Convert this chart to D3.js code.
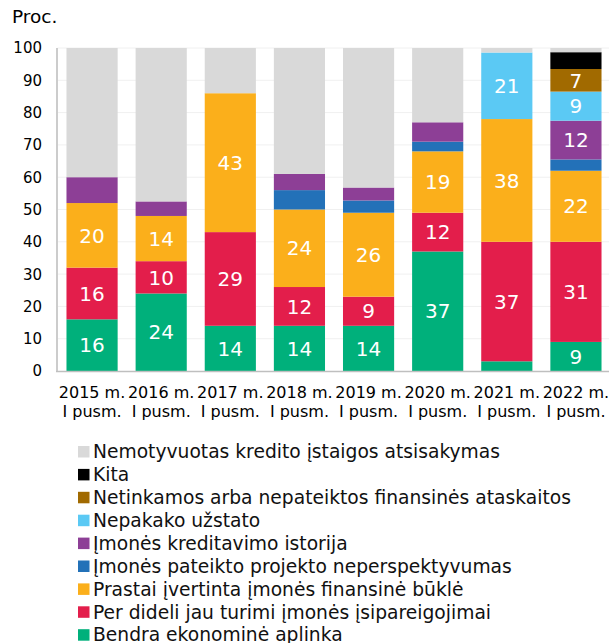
<!DOCTYPE html>
<html>
<head>
<meta charset="utf-8">
<script src="https://cdn.jsdelivr.net/npm/d3@7"></script>
<style>
  body { margin: 0; background: #fff; }
  svg { font-family: "DejaVu Sans", Verdana, sans-serif; display: block; }
</style>
</head>
<body>
<div id="chart"></div>
<script>
// periods (two-line tick labels)
const periods = ['2015 m.|I pusm.', '2016 m.|I pusm.', '2017 m.|I pusm.', '2018 m.|I pusm.',
  '2019 m.|I pusm.', '2020 m.|I pusm.', '2021 m.|I pusm.', '2022 m.|I pusm.'];

// series, bottom to top
const seriesNames = [
  'Bendra ekonominė aplinka',
  'Per dideli jau turimi įmonės įsipareigojimai',
  'Prastai įvertinta įmonės finansinė būklė',
  'Įmonės pateikto projekto neperspektyvumas',
  'Įmonės kreditavimo istorija',
  'Nepakako užstato',
  'Netinkamos arba nepateiktos finansinės ataskaitos',
  'Kita',
  'Nemotyvuotas kredito įstaigos atsisakymas'
];
const seriesColors = ['#00b07b', '#e31e4b', '#fbaf1b', '#2371b8', '#8d3f96',
  '#5bc9f4', '#a16a00', '#000000', '#d9d9d9'];

const bendra     = [16, 24, 14, 14, 14, 37, 3, 9];
const dideli     = [16, 10, 29, 12, 9, 12, 37, 31];
const prastai    = [20, 14, 43, 24, 26, 19, 38, 22];
const projektas  = [0, 0, 0, 6, 3.8, 3, 0, 3.5];
const istorija   = [8, 4.5, 0, 5, 4, 6, 0, 12];
const uzstatas   = [0, 0, 0, 0, 0, 0, 20.6, 9];
const ataskaitos = [0, 0, 0, 0, 0, 0, 0, 7];
const kita       = [0, 0, 0, 0, 0, 0, 0, 5.2];
const nemotyv    = [40, 47.5, 14, 39, 43.2, 23, 1.4, 1.3];

const seriesValues = [bendra, dideli, prastai, projektas, istorija, uzstatas, ataskaitos, kita, nemotyv];

const yTicks = [0, 10, 20, 30, 40, 50, 60, 70, 80, 90, 100];
const labelMin = 7;
const noLabelSeries = [7, 8];          // Kita, Nemotyvuotas
const noLabelCells = [[0, 4]];         // 2015 istorija

const width = 609;
const height = 643;
const margin = { top: 48, bottom: 272, left: 57.5, right: -1.5 };

const svg = d3.select('#chart')
  .append('svg')
  .attr('width', width)
  .attr('height', height);

const x = d3.scaleBand()
  .domain(d3.range(periods.length))
  .range([margin.left, width - margin.right])
  .paddingInner(0.26)
  .paddingOuter(0.13);

const y = d3.scaleLinear()
  .domain([0, 100])
  .range([height - margin.bottom, margin.top]);

// gridlines
svg.append('g')
  .selectAll('line')
  .data(yTicks.slice(1))
  .join('line')
  .attr('x1', margin.left)
  .attr('x2', width)
  .attr('y1', d => y(d))
  .attr('y2', d => y(d))
  .attr('stroke', '#f0f0f0')
  .attr('stroke-width', 1);

// stacked data
const rows = periods.map((p, i) => {
  const r = { i };
  seriesValues.forEach((s, k) => r[k] = s[i]);
  return r;
});
const stack = d3.stack().keys(d3.range(seriesNames.length))(rows);

const layers = svg.append('g')
  .selectAll('g')
  .data(stack)
  .join('g')
  .attr('fill', d => seriesColors[d.key]);

layers.selectAll('rect')
  .data(d => d)
  .join('rect')
  .attr('x', d => x(d.data.i))
  .attr('y', d => y(d[1]))
  .attr('width', x.bandwidth())
  .attr('height', d => y(d[0]) - y(d[1]));

// value labels
const labels = [];
stack.forEach(layer => {
  layer.forEach(d => {
    const k = layer.key, i = d.data.i, v = d[1] - d[0];
    if (v < labelMin || noLabelSeries.includes(k)) return;
    if (noLabelCells.some(c => c[0] === i && c[1] === k)) return;
    labels.push({ i, v, mid: (d[0] + d[1]) / 2 });
  });
});

svg.append('g')
  .selectAll('text')
  .data(labels)
  .join('text')
  .attr('x', d => x(d.i) + x.bandwidth() / 2)
  .attr('y', d => y(d.mid))
  .attr('dy', '0.36em')
  .attr('text-anchor', 'middle')
  .attr('fill', '#fff')
  .attr('font-size', '20px')
  .text(d => d3.format('.0f')(d.v));

// axes lines
svg.append('line')
  .attr('x1', margin.left - 0.5).attr('x2', margin.left - 0.5)
  .attr('y1', margin.top).attr('y2', y(0))
  .attr('stroke', '#cccccc').attr('stroke-width', 2);
svg.append('line')
  .attr('x1', margin.left - 1.5).attr('x2', width)
  .attr('y1', y(0) + 0.5).attr('y2', y(0) + 0.5)
  .attr('stroke', '#bfbfbf').attr('stroke-width', 1.5);

// y tick labels
svg.append('g')
  .selectAll('text')
  .data(yTicks)
  .join('text')
  .attr('x', 42)
  .attr('y', d => y(d))
  .attr('dy', '0.36em')
  .attr('text-anchor', 'end')
  .attr('font-size', '15px')
  .attr('fill', '#000')
  .text(d => d);

svg.append('text')
  .attr('x', 12)
  .attr('y', 23)
  .attr('font-size', '18.5px')
  .text('Proc.');

// x tick labels
const xt = svg.append('g')
  .selectAll('text')
  .data(periods)
  .join('text')
  .attr('text-anchor', 'middle')
  .attr('font-size', '16px')
  .attr('fill', '#000');
xt.selectAll('tspan')
  .data((d, i) => d.split('|').map(t => ({ t, i })))
  .join('tspan')
  .attr('x', d => x(d.i) + x.bandwidth() / 2)
  .attr('y', (d, j) => 398 + j * 19)
  .text(d => d.t);

// legend, top to bottom = reverse stack order
const legendOrder = d3.range(seriesNames.length).reverse();
const legend = svg.append('g')
  .selectAll('g')
  .data(legendOrder)
  .join('g')
  .attr('transform', (d, j) => `translate(78,${451.5 + j * 22.9})`);

legend.append('rect')
  .attr('x', 0).attr('y', -5.5)
  .attr('width', 11.5).attr('height', 11.5)
  .attr('fill', d => seriesColors[d]);

legend.append('text')
  .attr('x', 15)
  .attr('y', 0)
  .attr('dy', '0.36em')
  .attr('font-size', '18.7px')
  .attr('fill', '#111')
  .text(d => seriesNames[d]);
</script>
</body>
</html>
